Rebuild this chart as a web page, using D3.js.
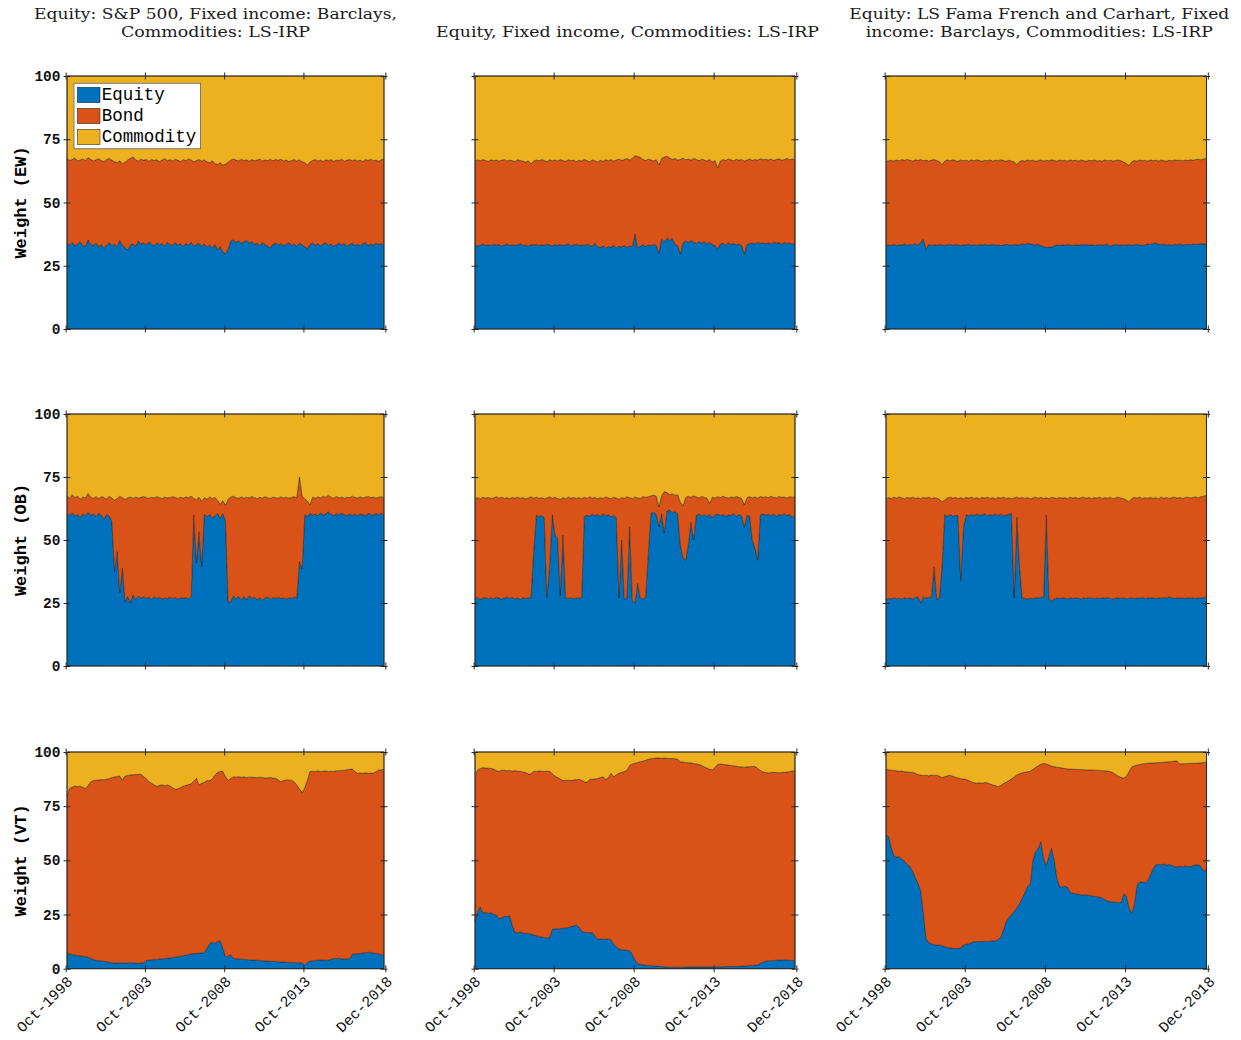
<!DOCTYPE html>
<html><head><meta charset="utf-8">
<script src="https://cdn.jsdelivr.net/npm/d3@7"></script>
<style>body{margin:0;background:#fff}</style>
</head><body><svg id="c" width="1241" height="1040"></svg>
<script>
// ---------------- data ----------------
const seriesNames = ["Equity", "Bond", "Commodity"];
const colors = ["#0072BD", "#D95319", "#EDB120"];
const columnTitles = [
  ["Equity: S&P 500, Fixed income: Barclays,", "Commodities: LS-IRP"],
  ["Equity, Fixed income, Commodities: LS-IRP"],
  ["Equity: LS Fama French and Carhart, Fixed", "income: Barclays, Commodities: LS-IRP"]
];
const rowLabels = ["Weight (EW)", "Weight (OB)", "Weight (VT)"];
const yTicks = [0, 25, 50, 75, 100];
const xTickMonths = [[1998, 9], [2003, 9], [2008, 9], [2013, 9], [2018, 11]];
const xTickLabels = ["Oct-1998", "Oct-2003", "Oct-2008", "Oct-2013", "Dec-2018"];
// observations every two months, Oct-1998 .. Dec-2018 (122 dates)
const dates = d3.timeMonth.every(2).range(new Date(1998, 9, 1), new Date(2019, 0, 1));

// Row 1: EW
const ewSpEquity = [34.0,33.2,34.3,32.8,33.6,34.5,33.0,32.6,35.3,33.4,
33.0,34.0,32.4,33.5,31.8,33.2,34.2,32.9,33.6,32.5,
35.0,33.0,32.3,31.2,33.1,33.8,32.6,34.8,33.5,34.1,
33.2,34.5,33.6,32.9,34.0,33.3,33.8,32.8,34.2,33.4,
33.0,34.1,33.2,33.7,32.6,33.9,33.1,34.3,32.7,33.5,
33.9,32.8,33.6,32.4,33.2,32.0,33.4,31.2,32.6,30.4,
29.8,31.5,34.8,35.2,34.3,34.9,33.8,34.6,35.0,34.1,
34.4,33.5,33.9,33.0,34.2,33.4,32.8,32.0,33.6,34.0,
33.2,33.8,32.9,33.5,34.1,33.0,33.6,32.7,33.9,33.3,
32.5,31.8,33.4,34.0,33.1,33.7,32.9,33.5,34.2,33.0,
33.6,32.8,33.3,34.1,33.2,33.8,32.7,33.4,34.0,33.1,
33.5,32.9,33.7,34.2,33.0,33.6,33.2,33.9,33.4,33.8,
33.1,33.6];
const ewSpCommodity = [32.6,33.4,33.0,32.4,33.6,33.2,32.8,33.5,32.2,33.0,
33.6,33.1,32.7,33.4,33.8,33.0,32.6,33.3,33.9,34.2,
33.5,34.8,34.0,33.2,32.6,32.0,33.1,33.6,32.8,33.3,
33.0,33.7,32.9,33.4,33.1,33.8,33.2,32.7,33.5,33.0,
33.6,32.9,33.3,33.8,33.0,33.5,32.8,33.2,33.9,33.4,
33.0,33.6,33.2,33.9,34.3,33.5,34.6,35.0,34.2,35.2,
34.8,34.0,33.3,32.8,33.2,33.6,32.9,33.4,33.1,33.7,
33.0,33.5,33.2,32.8,33.6,33.1,33.4,32.9,33.5,33.0,
33.3,32.9,33.6,33.2,33.8,33.4,33.0,33.6,33.2,33.9,
34.2,35.2,34.0,33.4,33.0,33.6,33.2,33.8,33.1,33.5,
33.0,33.7,33.2,33.4,32.9,33.6,33.3,33.0,33.5,33.1,
33.6,33.2,33.8,33.0,33.4,32.9,33.5,33.2,33.7,33.1,
32.8,32.5];
const ewLsEquity = [33.4,32.8,33.2,33.6,33.0,33.3,32.9,33.5,33.1,33.4,
32.8,33.2,33.6,33.0,33.4,32.9,33.3,33.7,33.0,33.2,
32.7,33.4,33.1,33.5,32.9,33.3,33.0,33.6,33.2,32.8,
33.4,33.0,33.5,32.9,33.3,33.7,32.8,33.2,33.6,33.0,
33.3,32.9,33.5,33.1,32.6,34.0,32.5,32.2,32.8,32.0,
32.6,32.3,32.9,32.1,32.7,32.4,33.0,32.2,32.8,32.5,
37.5,32.0,32.8,33.4,32.6,33.2,32.9,33.5,33.0,30.0,
35.5,34.5,36.0,35.0,35.8,33.5,33.0,29.6,34.0,34.8,
34.2,35.0,34.4,33.8,34.6,34.0,34.5,33.6,34.2,33.4,
33.0,31.5,33.6,33.9,33.2,34.0,33.5,33.8,33.2,33.6,
33.0,29.5,33.4,33.8,34.0,33.6,34.2,33.8,34.1,33.7,
34.0,33.6,34.3,33.9,34.1,33.5,34.2,33.8,34.0,33.4,
33.9,31.8];
const ewLsCommodity = [33.6,33.2,33.5,33.0,33.4,33.7,33.1,33.5,33.2,33.6,
33.3,33.0,33.6,33.2,33.5,33.8,33.1,33.4,33.7,34.0,
33.5,34.8,33.6,33.2,33.5,33.0,33.4,33.8,33.1,33.5,
33.2,33.6,33.0,33.4,33.7,33.1,33.5,33.2,33.8,33.3,
33.6,33.0,33.4,33.9,33.2,33.5,34.0,33.3,33.7,33.1,
33.5,33.0,33.6,33.2,32.8,33.4,33.0,32.6,33.2,32.5,
31.5,31.8,32.2,33.0,33.4,32.8,33.2,33.6,33.0,35.2,
32.6,32.0,31.7,32.4,33.0,32.6,33.2,33.0,32.5,33.1,
32.8,33.3,32.6,33.0,33.5,32.9,33.2,33.6,33.0,34.0,
33.4,36.4,33.6,33.0,33.4,32.8,33.2,33.5,32.9,33.3,
33.0,33.6,33.2,32.8,33.4,33.0,33.3,32.7,33.1,32.9,
33.2,32.8,33.4,33.0,32.7,33.3,33.0,32.6,33.1,32.8,
33.0,32.9];
const ewFfEquity = [33.0,33.2,33.1,33.4,33.0,33.3,33.2,33.6,33.1,33.4,
33.3,33.6,33.2,34.2,35.5,31.5,33.4,33.0,33.3,33.1,
33.4,33.2,33.0,33.3,33.5,33.1,33.4,33.2,33.0,33.3,
33.2,33.5,33.1,33.3,33.0,33.4,33.2,33.5,33.1,33.3,
33.4,33.1,33.3,33.0,33.2,33.5,33.3,33.1,33.4,33.2,
33.3,33.6,33.4,33.9,33.7,33.4,33.2,33.5,33.0,32.6,
32.2,32.5,32.3,32.9,33.2,33.0,33.3,33.1,33.4,33.2,
33.0,33.3,33.1,33.4,33.2,33.5,33.1,33.3,33.0,33.2,
33.4,33.1,33.3,33.5,32.6,33.2,33.4,33.1,33.3,33.0,
33.2,33.4,33.1,33.3,33.5,33.2,33.0,33.3,33.6,33.4,
33.8,34.0,33.5,33.3,33.6,33.2,33.4,33.1,33.5,33.3,
33.6,33.2,33.4,33.5,33.3,33.6,33.4,33.5,33.7,33.6,
33.8,33.9];
const ewFfCommodity = [33.8,33.5,33.3,33.6,33.2,33.5,33.0,33.4,32.9,33.3,
33.6,33.1,33.4,33.0,33.5,33.2,33.6,33.3,33.0,33.4,
33.8,35.0,33.6,33.2,33.5,33.1,33.4,33.7,33.2,33.5,
33.3,33.6,33.2,33.5,33.1,33.4,33.7,33.3,33.5,33.2,
33.6,33.3,33.5,33.1,33.4,33.7,33.3,33.6,34.0,35.0,
33.8,33.4,33.6,33.2,33.5,33.3,33.7,33.4,33.2,33.6,
33.3,33.5,33.1,33.4,33.6,33.2,33.5,33.3,33.6,33.2,
33.5,33.3,33.6,33.2,33.4,33.7,33.3,33.5,33.2,33.6,
33.4,33.6,33.2,33.5,33.3,33.6,33.4,33.2,33.5,34.0,
34.6,35.4,34.0,33.4,33.6,33.2,33.5,33.3,33.6,33.2,
33.5,33.3,33.6,33.2,33.4,33.7,33.3,33.5,33.2,33.4,
33.3,33.5,33.2,33.4,33.1,33.3,33.0,32.9,33.1,32.8,
32.5,32.2];

// Row 2: OB
const obSpEquity = [60.5,59.8,60.8,59.5,60.2,58.8,60.4,59.6,61.0,59.9,
60.3,59.4,60.6,59.8,58.2,60.1,59.5,57.3,37.4,45.4,
29.0,38.9,25.5,27.6,25.0,28.2,26.4,27.8,26.9,27.5,
26.8,27.3,26.6,27.4,26.9,27.2,26.5,27.0,26.7,27.3,
26.8,27.1,26.6,27.0,26.9,27.2,26.7,27.5,60.0,40.8,
53.3,39.4,60.2,59.3,60.0,58.8,59.6,60.4,58.6,60.5,
57.5,25.2,25.6,27.8,26.9,27.5,26.3,27.6,26.2,27.9,
26.8,27.3,26.4,27.0,26.1,26.9,27.4,26.6,27.2,26.8,
27.3,26.7,27.1,26.5,27.2,26.8,27.4,27.0,41.5,38.5,
60.0,59.4,60.6,59.8,60.3,59.6,60.8,59.9,60.4,61.2,
60.0,59.7,60.5,59.9,60.7,60.1,59.6,60.3,59.8,60.2,
59.6,60.4,60.0,59.7,60.6,60.1,59.8,60.5,60.0,60.7,
59.6,61.2];
const obSpCommodity = [32.5,33.4,32.0,33.2,32.6,33.8,32.9,33.3,31.5,33.0,
33.5,32.7,33.6,32.8,33.1,33.8,32.6,33.4,34.2,33.5,
32.6,33.2,33.9,33.3,32.9,33.5,33.0,33.4,33.1,32.7,
33.2,33.5,33.0,33.3,32.8,33.2,33.5,33.0,33.3,33.1,
32.8,33.2,33.5,33.0,33.4,32.9,33.2,32.6,33.5,34.0,
33.0,34.6,33.2,33.8,32.9,33.5,33.1,34.2,35.8,34.4,
36.2,33.8,33.0,32.6,33.2,33.5,32.9,33.4,33.0,33.3,
32.7,33.2,33.6,33.0,33.4,32.8,33.3,33.5,33.0,33.2,
33.4,32.9,33.3,33.0,33.4,33.1,32.8,33.2,25.0,32.5,
33.6,34.6,36.0,33.0,33.4,32.9,33.3,32.6,33.1,32.2,
33.0,33.4,32.7,33.3,32.9,33.5,33.0,33.2,32.6,33.1,
33.4,32.8,33.3,33.0,32.7,33.2,32.9,33.4,33.0,32.8,
33.2,31.8];
const obLsEquity = [26.8,27.1,26.5,26.9,27.2,26.6,27.0,26.7,27.3,26.9,
26.5,27.0,27.4,26.8,27.2,26.6,27.0,26.4,27.1,26.8,
27.2,26.9,45.0,59.8,59.3,59.6,59.0,27.2,40.0,60.0,
52.0,50.5,28.0,52.0,27.0,26.8,27.1,26.7,27.0,26.9,
27.2,59.3,59.8,59.5,60.2,59.7,60.1,59.4,60.3,59.6,
60.0,59.2,59.8,58.9,27.0,50.0,26.5,27.2,55.2,26.0,
25.0,32.8,27.0,26.6,27.3,45.0,60.6,61.0,60.2,55.3,
60.4,52.8,61.5,62.0,60.8,61.2,60.5,48.0,43.0,42.0,
48.0,57.0,50.0,59.8,60.3,59.5,60.1,59.4,60.2,58.8,
59.9,60.4,59.6,60.2,59.3,60.0,59.7,60.5,59.4,60.1,
59.6,55.0,59.8,59.4,50.0,47.0,42.0,60.0,60.4,59.8,
60.2,59.7,60.3,59.5,60.1,59.8,60.4,59.6,60.2,58.9,
60.0,59.2];
const obLsCommodity = [33.5,33.2,33.6,33.0,33.4,33.1,33.5,33.3,32.8,33.4,
33.0,33.5,33.2,33.6,33.1,33.4,33.0,33.5,33.2,33.6,
33.3,32.9,33.4,33.0,33.5,33.2,33.6,33.3,32.9,33.4,
33.1,33.5,33.8,33.2,33.6,33.0,33.4,33.1,33.5,33.2,
33.6,33.0,33.5,32.8,33.4,33.1,33.6,33.2,33.5,32.9,
33.3,33.6,33.0,33.4,33.8,33.1,33.5,32.8,33.2,33.6,
32.9,33.3,33.5,32.7,33.1,32.8,32.5,32.2,32.6,36.8,
32.4,30.8,31.2,32.0,31.6,32.3,32.0,35.0,36.5,33.2,
32.6,33.0,32.5,32.9,33.3,32.7,33.1,33.4,35.5,33.0,
33.3,32.8,33.2,32.6,33.0,33.4,32.9,33.2,32.7,33.1,
33.5,36.0,33.2,32.8,33.3,32.9,33.4,32.7,33.1,32.8,
33.2,32.6,33.0,33.3,32.7,33.1,32.9,33.4,32.8,33.1,
32.6,33.0];
const obFfEquity = [26.4,26.8,26.6,27.0,26.7,26.9,26.5,27.1,26.8,27.0,
26.6,27.2,27.4,25.0,27.5,27.0,27.2,27.4,39.4,26.5,
27.0,39.4,60.0,59.4,60.1,59.5,59.8,59.6,34.0,55.0,
60.0,59.6,60.2,59.7,60.3,59.8,60.0,60.4,59.6,60.1,
59.8,60.2,59.7,60.3,59.5,59.9,60.2,60.6,27.0,59.0,
40.0,27.0,26.8,26.6,26.9,26.7,27.1,27.0,27.3,27.4,
60.0,26.5,25.8,26.7,27.0,26.8,27.1,26.9,26.7,27.0,
26.8,27.1,26.9,26.6,27.0,26.8,27.2,26.9,26.7,27.0,
26.8,27.1,26.9,27.2,26.8,26.6,26.9,27.1,26.8,27.0,
26.7,26.9,27.1,26.8,27.0,26.9,27.2,26.8,27.0,26.9,
27.1,26.8,27.0,26.9,27.2,26.9,27.4,27.0,26.8,27.1,
26.9,27.0,26.8,27.1,26.9,27.0,26.8,27.1,27.0,27.2,
27.3,27.6];
const obFfCommodity = [33.6,33.2,33.5,33.0,33.4,32.9,33.3,33.6,33.1,33.4,
33.0,33.5,33.2,33.6,33.1,33.4,33.0,33.5,33.2,33.4,
33.8,34.8,34.2,33.3,33.0,33.4,33.1,33.5,33.2,33.6,
33.1,33.4,33.0,33.5,33.2,33.6,33.1,33.4,33.0,33.5,
33.2,33.6,33.1,33.4,33.0,33.5,33.2,33.6,33.3,33.0,
33.4,33.1,33.5,33.2,33.6,33.3,33.0,33.4,33.1,33.5,
33.2,33.6,33.0,33.3,33.5,33.1,33.4,33.2,33.6,33.0,
33.4,33.1,33.5,33.2,33.0,33.4,33.1,33.6,33.2,33.4,
33.0,33.5,33.2,33.4,33.1,33.6,33.3,33.0,33.4,33.6,
34.2,34.8,33.6,33.1,33.4,33.0,33.5,33.2,33.4,33.1,
33.5,33.2,33.6,33.0,33.4,33.1,33.5,33.2,33.0,33.4,
33.1,33.5,33.2,33.0,33.3,33.1,32.9,33.2,32.8,32.6,
32.2,31.6];

// Row 3: VT
const vtSpEquity = [7.1,6.8,6.5,6.3,6.0,5.9,5.7,5.5,5.3,4.8,
4.2,3.9,3.7,3.6,3.4,3.2,3.0,2.8,2.6,2.6,
2.7,2.8,2.6,2.7,2.8,2.7,2.6,2.5,2.6,2.8,
3.8,4.0,4.1,4.2,4.3,4.5,4.6,4.6,4.8,5.0,
5.2,5.3,5.5,5.8,6.0,6.3,6.5,6.8,7.0,7.1,
7.1,7.2,7.5,9.5,11.5,12.2,11.8,12.5,12.8,9.4,
5.5,5.8,6.4,4.7,4.6,4.5,4.4,4.3,4.2,4.1,
4.0,4.0,3.9,3.8,3.7,3.6,3.5,3.4,3.4,3.3,
3.2,3.1,3.1,3.0,2.9,2.9,2.8,2.8,2.7,2.7,
1.7,3.0,3.5,3.6,3.8,3.9,4.0,4.0,3.9,4.0,
4.3,4.8,4.6,4.8,4.5,4.6,4.5,4.6,6.7,6.8,
6.9,7.0,7.2,7.4,7.6,7.5,7.2,7.0,6.8,6.6,
6.2,6.0];
const vtSpCommodity = [20.3,16.8,16.2,15.7,16.0,15.7,16.4,16.8,15.5,13.8,
13.2,13.0,12.9,12.7,12.8,12.6,12.2,11.8,11.5,11.3,
11.1,13.0,11.1,10.8,10.6,10.5,10.4,10.3,10.3,11.4,
12.2,13.7,14.4,15.2,15.9,15.4,15.2,15.5,15.2,15.7,
16.5,17.2,17.0,16.4,15.8,15.4,15.0,14.7,13.5,12.1,
15.2,14.4,14.0,13.2,13.2,12.5,10.6,9.5,8.9,8.9,
11.5,13.0,12.2,11.4,11.6,11.4,11.7,11.5,11.8,11.6,
11.7,11.7,11.9,11.6,11.8,12.0,11.9,11.8,12.1,12.1,
12.9,13.7,13.2,12.8,13.0,13.0,13.8,15.2,17.0,18.7,
16.5,13.0,9.0,8.9,9.0,8.8,9.0,8.9,8.8,9.0,
8.9,9.0,8.7,8.6,8.5,8.4,8.2,8.0,7.9,9.0,
9.8,9.7,9.8,9.6,9.8,9.7,9.8,9.0,8.3,8.2,
8.0,7.9];
const vtLsEquity = [21.7,26.5,28.5,25.6,26.0,25.5,25.8,25.0,24.8,23.0,
23.5,24.2,24.0,24.5,20.0,16.8,16.5,17.0,16.4,16.2,
16.3,16.0,15.5,15.2,14.8,14.6,14.4,14.1,14.3,18.2,
18.4,18.3,18.5,18.7,18.8,19.0,19.4,19.8,20.2,19.2,
17.5,16.7,16.8,16.5,16.7,15.0,13.6,13.8,13.5,13.7,
13.6,13.4,11.5,10.0,9.2,8.7,8.6,8.5,8.4,6.5,
4.1,2.2,2.0,1.8,1.6,1.5,1.4,1.3,1.2,1.1,
1.0,0.9,0.8,0.7,0.7,0.7,0.7,0.7,0.7,0.8,
0.8,0.8,0.8,0.8,0.8,0.8,0.8,0.8,0.8,0.8,
0.8,0.9,0.9,0.9,1.0,1.0,1.0,1.0,1.1,1.1,
1.2,1.2,1.3,1.4,1.5,1.6,1.8,2.4,3.0,3.5,
3.6,3.7,3.8,3.9,4.0,4.0,4.1,4.0,3.9,3.8,
3.8,3.4];
const vtLsCommodity = [10.6,8.3,7.6,7.2,7.4,7.5,7.6,7.9,8.6,8.9,
8.4,8.4,8.7,8.5,8.8,8.6,8.9,8.9,9.2,9.5,
10.2,10.0,8.9,9.0,8.8,8.9,9.0,8.8,8.9,10.0,
11.1,11.8,12.5,13.2,13.1,13.0,13.2,12.9,12.8,12.6,
13.0,13.7,14.0,12.6,12.6,12.4,12.2,11.8,11.4,12.6,
12.0,9.8,11.4,10.5,9.8,9.4,9.0,8.4,6.2,5.5,
5.2,4.8,4.5,4.2,3.8,3.4,3.1,2.9,2.8,2.8,
2.9,2.8,2.9,3.0,3.0,3.1,3.4,4.5,4.6,4.8,
5.0,5.1,5.3,5.5,5.8,6.2,6.8,7.4,8.0,8.2,
7.0,5.8,5.5,5.7,5.9,6.0,6.2,6.4,6.6,6.8,
6.9,7.0,6.9,6.8,6.7,6.7,7.5,8.5,9.2,9.5,
9.6,9.5,9.4,9.5,9.6,9.5,9.4,9.2,9.0,8.8,
8.5,8.3];
const vtFfEquity = [61.7,61.0,56.0,52.0,51.5,51.7,50.5,49.5,48.0,47.0,
45.0,42.0,39.4,36.0,26.0,14.0,12.0,11.5,11.0,10.8,
11.0,10.6,10.2,9.8,9.5,9.4,9.3,9.4,9.5,11.0,
11.2,11.5,12.0,12.5,12.4,12.6,12.5,12.7,12.6,12.7,
12.8,12.9,13.5,14.5,18.0,21.7,23.5,25.0,26.5,28.0,
30.0,32.5,35.0,38.0,39.0,50.0,54.0,55.5,58.6,51.0,
47.5,52.0,55.6,50.0,42.0,37.8,37.8,38.0,37.6,35.2,
34.8,34.6,34.4,34.1,34.0,34.2,33.8,33.6,33.4,33.2,
33.0,32.6,31.8,31.2,31.0,30.8,30.7,30.6,30.5,34.5,
33.5,28.0,25.6,29.4,38.5,40.1,40.0,39.6,40.5,43.2,
46.0,47.9,48.2,48.0,48.3,47.8,48.1,47.6,47.2,46.9,
47.3,47.0,47.4,47.2,47.0,47.6,47.8,48.0,47.0,45.1,
45.8,46.3];
const vtFfCommodity = [8.0,8.2,8.4,8.5,8.7,8.9,8.8,9.1,9.2,9.3,
9.3,9.8,10.4,10.6,10.9,10.7,11.0,10.6,10.8,10.7,
11.2,11.8,11.4,11.0,10.7,11.2,11.6,12.0,12.3,12.5,
12.6,13.2,13.8,14.2,14.4,14.2,14.4,14.1,14.2,14.8,
15.2,15.5,16.0,15.4,14.5,14.0,13.2,12.4,11.5,10.5,
10.0,9.6,9.4,9.1,8.9,8.0,7.2,6.4,5.7,5.2,
5.5,6.0,6.5,6.8,7.0,7.2,7.4,7.6,7.8,7.9,
8.0,8.0,8.1,8.1,8.2,8.2,8.3,8.3,8.4,8.4,
8.5,8.6,8.7,8.8,9.0,9.6,10.4,11.2,11.7,12.1,
11.2,9.0,7.0,6.4,6.0,5.8,5.5,5.4,5.2,5.1,
5.0,5.0,4.9,4.8,4.7,4.6,4.5,4.4,4.2,4.1,
5.5,5.4,5.4,5.3,5.3,5.2,5.2,5.1,5.0,4.8,
4.7,4.5];

const panels = [
  [ [ewSpEquity, ewSpCommodity], [ewLsEquity, ewLsCommodity], [ewFfEquity, ewFfCommodity] ],
  [ [obSpEquity, obSpCommodity], [obLsEquity, obLsCommodity], [obFfEquity, obFfCommodity] ],
  [ [vtSpEquity, vtSpCommodity], [vtLsEquity, vtLsCommodity], [vtFfEquity, vtFfCommodity] ]
];

// ---------------- layout ----------------
const colX = [[67, 384], [475, 795], [886, 1206.5]];
const rowY = [[76, 329], [414, 666], [752, 968.7]];
const titleCX = [215.5, 627.5, 1039.3];
const titleWidths = [[363, 189], [383], [380, 347]];
const axisColor = "#262626";
const mono = "'Liberation Mono', 'DejaVu Sans Mono', monospace";
const serif = "'DejaVu Serif', serif";

const svg = d3.select("#c");
const tickDates = xTickMonths.map(([y, m]) => new Date(y, m, 1));

// titles
columnTitles.forEach((lines, c) => {
  const n = lines.length;
  lines.forEach((t, k) => {
    svg.append("text")
      .attr("x", titleCX[c]).attr("y", 37 - (n - 1 - k) * 17.7)
      .attr("text-anchor", "middle")
      .attr("textLength", titleWidths[c][k]).attr("lengthAdjust", "spacingAndGlyphs")
      .style("font-family", serif).style("font-size", "14.5px").style("fill", "#1a1a1a")
      .text(t);
  });
});

function crossTicks(g, axisOut, axisIn) {
  const go = g.append("g").call(axisOut);
  const gi = g.append("g").call(axisIn);
  [go, gi].forEach(s => { s.select(".domain").remove(); s.selectAll("line").attr("stroke", axisColor).attr("stroke-width", 1); });
  return go;
}

for (let r = 0; r < 3; r++) {
  for (let c = 0; c < 3; c++) {
    const [eq, cm] = panels[r][c];
    const x = d3.scaleTime().domain([dates[0], dates[dates.length - 1]]).range(colX[c]);
    const y = d3.scaleLinear().domain([0, 100]).range([rowY[r][1], rowY[r][0]]);
    const table = dates.map((d, i) => ({ date: d, Equity: eq[i], Commodity: cm[i], Bond: 100 - eq[i] - cm[i] }));
    const stacked = d3.stack().keys(seriesNames)(table);
    const area = d3.area().x(d => x(d.data.date)).y0(d => y(d[0])).y1(d => y(d[1]));
    const g = svg.append("g");
    g.selectAll("path.a").data(stacked).join("path").attr("class", "a")
      .attr("d", area)
      .attr("fill", (d, i) => colors[i])
      .attr("stroke", "#1a1a1a").attr("stroke-opacity", 0.75).attr("stroke-width", 0.6)
      .attr("stroke-linejoin", "round");

    // box
    g.append("rect").attr("x", colX[c][0]).attr("y", rowY[r][0])
      .attr("width", colX[c][1] - colX[c][0]).attr("height", rowY[r][1] - rowY[r][0])
      .attr("fill", "none").attr("stroke", axisColor).attr("stroke-width", 1);

    const tk = 3.5;
    const left = g.append("g").attr("transform", `translate(${colX[c][0]},0)`);
    const lo = crossTicks(left,
      d3.axisLeft(y).tickValues(yTicks).tickSizeInner(tk).tickSizeOuter(0).tickPadding(3).tickFormat(c === 0 ? d3.format("d") : () => ""),
      d3.axisRight(y).tickValues(yTicks).tickSizeInner(tk).tickSizeOuter(0).tickFormat(() => ""));
    lo.selectAll("text").style("font-family", mono).style("font-size", "14.5px").style("font-weight", "bold").style("fill", "#111");
    const right = g.append("g").attr("transform", `translate(${colX[c][1]},0)`);
    crossTicks(right,
      d3.axisRight(y).tickValues(yTicks).tickSizeInner(tk).tickSizeOuter(0).tickFormat(() => ""),
      d3.axisLeft(y).tickValues(yTicks).tickSizeInner(tk).tickSizeOuter(0).tickFormat(() => ""));
    const top = g.append("g").attr("transform", `translate(0,${rowY[r][0]})`);
    crossTicks(top,
      d3.axisTop(x).tickValues(tickDates).tickSizeInner(tk).tickSizeOuter(0).tickFormat(() => ""),
      d3.axisBottom(x).tickValues(tickDates).tickSizeInner(tk).tickSizeOuter(0).tickFormat(() => ""));
    const bottom = g.append("g").attr("transform", `translate(0,${rowY[r][1]})`);
    crossTicks(bottom,
      d3.axisBottom(x).tickValues(tickDates).tickSizeInner(tk).tickSizeOuter(0).tickFormat(() => ""),
      d3.axisTop(x).tickValues(tickDates).tickSizeInner(tk).tickSizeOuter(0).tickFormat(() => ""));

    if (r === 2) {
      tickDates.forEach((d, k) => {
        const px = x(d) + 4, py = rowY[r][1] + 10;
        g.append("text")
          .attr("transform", `translate(${px},${py}) rotate(-45)`)
          .attr("text-anchor", "end").attr("dy", "0.35em")
          .style("font-family", mono).style("font-size", "15px").style("fill", "#111")
          .text(xTickLabels[k]);
      });
    }
    if (c === 0) {
      svg.append("text")
        .attr("transform", `translate(25.5,${(rowY[r][0] + rowY[r][1]) / 2}) rotate(-90)`)
        .attr("text-anchor", "middle")
        .style("font-family", mono).style("font-size", "17px").style("font-weight", "bold").style("fill", "#000")
        .text(rowLabels[r]);
    }
    if (r === 0 && c === 0) {
      const lg = svg.append("g");
      lg.append("rect").attr("x", 74).attr("y", 83.3).attr("width", 126.5).attr("height", 65.4)
        .attr("fill", "#fff").attr("stroke", "#7a7a7a").attr("stroke-width", 1);
      seriesNames.forEach((s, k) => {
        lg.append("rect").attr("x", 77.3).attr("y", 87.3 + k * 21).attr("width", 22.7).attr("height", 15.4)
          .attr("fill", colors[k]).attr("stroke", "#1a1a1a").attr("stroke-width", 0.5);
        lg.append("text").attr("x", 101.7).attr("y", 100 + k * 20.8)
          .style("font-family", mono).style("font-size", "17.5px").style("fill", "#000")
          .text(s);
      });
    }
  }
}
</script>
</body></html>
